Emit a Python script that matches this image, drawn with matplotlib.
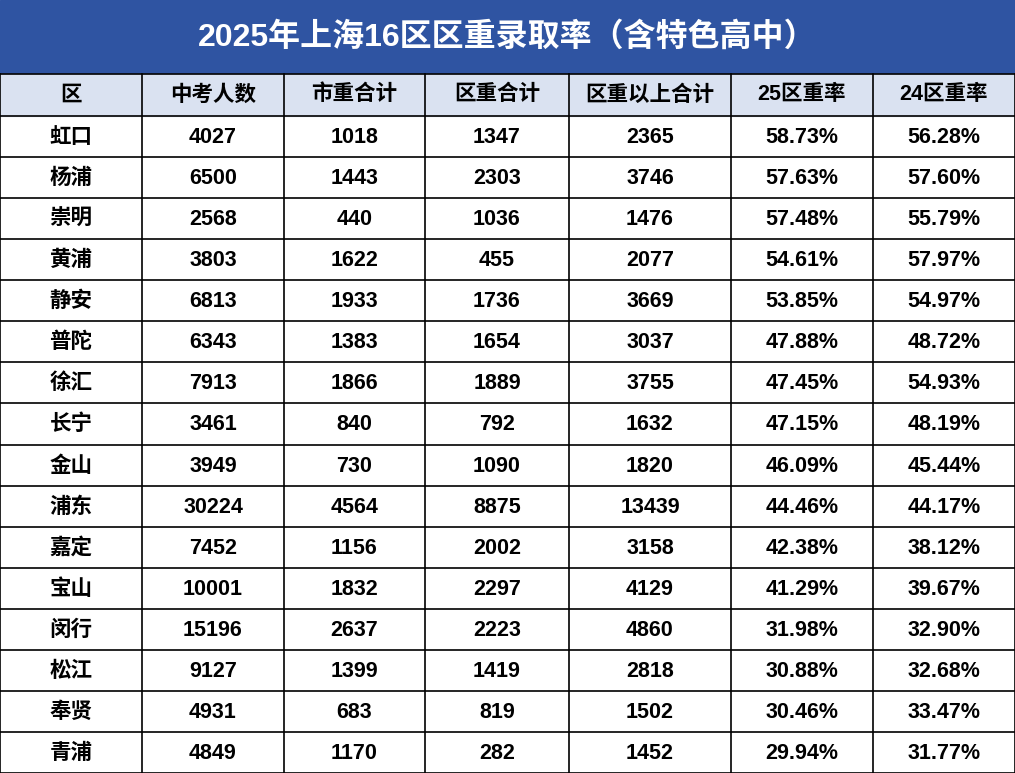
import matplotlib
matplotlib.use("Agg")
import matplotlib.pyplot as plt
from matplotlib.patches import Rectangle

plt.rcParams['font.family'] = ['Liberation Sans', 'Noto Sans CJK SC', 'DejaVu Sans']

title = "2025年上海16区区重录取率（含特色高中）"
headers = ["区", "中考人数", "市重合计", "区重合计", "区重以上合计", "25区重率", "24区重率"]
districts = ["虹口","杨浦","崇明","黄浦","静安","普陀","徐汇","长宁","金山","浦东","嘉定","宝山","闵行","松江","奉贤","青浦"]
exam = [4027,6500,2568,3803,6813,6343,7913,3461,3949,30224,7452,10001,15196,9127,4931,4849]
city = [1018,1443,440,1622,1933,1383,1866,840,730,4564,1156,1832,2637,1399,683,1170]
dist = [1347,2303,1036,455,1736,1654,1889,792,1090,8875,2002,2297,2223,1419,819,282]
total = [2365,3746,1476,2077,3669,3037,3755,1632,1820,13439,3158,4129,4860,2818,1502,1452]
r25 = ["58.73%","57.63%","57.48%","54.61%","53.85%","47.88%","47.45%","47.15%","46.09%","44.46%","42.38%","41.29%","31.98%","30.88%","30.46%","29.94%"]
r24 = ["56.28%","57.60%","55.79%","57.97%","54.97%","48.72%","54.93%","48.19%","45.44%","44.17%","38.12%","39.67%","32.90%","32.68%","33.47%","31.77%"]

W, H = 1015, 773
fig = plt.figure(figsize=(W/100, H/100), dpi=100)
ax = fig.add_axes([0, 0, 1, 1])
ax.set_xlim(0, W); ax.set_ylim(H, 0); ax.axis('off')

cols = [0, 142, 284, 425, 569, 731, 873, 1015]
title_h = 74
head_top, head_bot = 74, 116
row_h = (H - head_bot) / 16

ax.add_patch(Rectangle((0, 0), W, title_h, color='#2F54A2'))
ax.text(W/2, title_h/2, title, color='white', fontsize=23, fontweight='bold', ha='center', va='center')
ax.add_patch(Rectangle((0, head_top), W, head_bot-head_top, color='#DAE2F1'))
for i, h in enumerate(headers):
    ax.text((cols[i]+cols[i+1])/2, (head_top+head_bot)/2, h, fontsize=15.5, fontweight='bold', ha='center', va='center', color='black')

for r in range(16):
    y = head_bot + (r+0.5)*row_h
    vals = [districts[r], exam[r], city[r], dist[r], total[r], r25[r], r24[r]]
    for i, v in enumerate(vals):
        ax.text((cols[i]+cols[i+1])/2, y + 1, str(v), fontsize=15.5, fontweight='bold', ha='center', va='center', color='black')

for x in cols:
    ax.plot([x, x], [head_top, H], color='black', lw=1.2)
ax.plot([0, W], [head_top, head_top], color='black', lw=1.2)
for r in range(17):
    y = head_bot + r*row_h
    ax.plot([0, W], [y, y], color='black', lw=1.2)

fig.savefig("out.png", dpi=100)
